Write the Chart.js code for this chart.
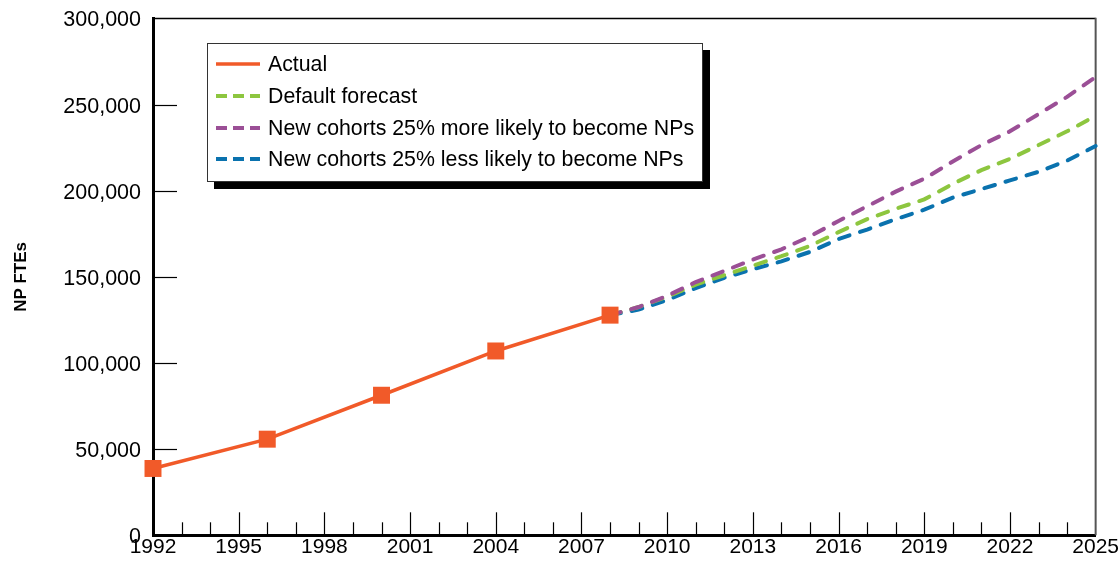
<!DOCTYPE html>
<html>
<head>
<meta charset="utf-8">
<script src="https://cdn.jsdelivr.net/npm/chart.js@4.4.1/dist/chart.umd.min.js"></script>
<style>
  html, body { margin: 0; padding: 0; background: #fff; }
  #wrap { position: relative; width: 1120px; height: 565px; }
  #legend {
    position: absolute; left: 207px; top: 43px; width: 496px; height: 139px;
    border: 1px solid #333; background: #fff; box-shadow: 7px 7px 0 #000;
    font-family: "Liberation Sans", Arial, sans-serif; font-size: 21.3px; color: #000;
    box-sizing: border-box;
  }
  .row { position: absolute; left: 7px; height: 24px; display: flex; align-items: center; white-space: nowrap; }
  .row svg { width: 46px; height: 10px; margin-right: 7px; }
</style>
</head>
<body>
<div id="wrap">
  <canvas id="c" width="1120" height="565"></canvas>
  <div id="legend"></div>
</div>
<script>
// ---- data ----
const actualYears  = [1992, 1996, 2000, 2004, 2008];
const actualValues = [38800, 55800, 81300, 107000, 127800];

const forecastYears = [2008, 2009, 2010, 2011, 2012, 2013, 2014, 2015, 2016,
                       2017, 2018, 2019, 2020, 2021, 2022, 2023, 2024, 2025];
const defaultForecast = [127800, 132500, 138500, 145500, 151000, 156500, 162000, 168000, 176000,
                         183500, 189500, 195000, 204000, 212000, 218500, 226500, 234500, 243500];
const moreLikely      = [127800, 132500, 139000, 147000, 153500, 160000, 166000, 173500, 182500,
                         191000, 199500, 207000, 217000, 226500, 234500, 244500, 254500, 266000];
const lessLikely      = [127800, 131000, 136500, 143500, 149500, 154500, 159000, 164500, 172000,
                         177500, 183500, 189000, 196000, 201000, 206000, 211000, 217500, 226000];

const seriesLabels = ["Actual", "Default forecast",
                      "New cohorts 25% more likely to become NPs",
                      "New cohorts 25% less likely to become NPs"];
const yAxisTitle = "NP FTEs";

// ---- styling ----
const C_ACTUAL = "#F15A29", C_DEFAULT = "#8DC63F", C_MORE = "#9B4F96", C_LESS = "#0A72AE";
const FONT = "'Liberation Sans', Arial, sans-serif";

const pts = (xs, ys) => xs.map((x, i) => ({ x: x, y: ys[i] }));

const frameTicks = {
  id: "frameTicks",
  beforeDatasetsDraw(chart) {
    const { ctx, chartArea: a, scales } = chart;
    const xs = scales.x, ys = scales.y;
    ctx.save();
    ctx.strokeStyle = "#000";
    ctx.lineWidth = 1.2;
    for (let yr = xs.min + 1; yr < xs.max; yr++) {
      const px = Math.round(xs.getPixelForValue(yr)) + 0.5;
      const len = ((yr - xs.min) % 3 === 0) ? 23 : 13;
      ctx.beginPath(); ctx.moveTo(px, a.bottom); ctx.lineTo(px, a.bottom - len); ctx.stroke();
    }
    for (let v = 50000; v < ys.max; v += 50000) {
      const py = Math.round(ys.getPixelForValue(v)) + 0.5;
      ctx.beginPath(); ctx.moveTo(a.left, py); ctx.lineTo(a.left + 24, py); ctx.stroke();
    }
    ctx.lineWidth = 1.5;
    ctx.beginPath(); ctx.moveTo(a.left, a.top); ctx.lineTo(a.right, a.top); ctx.stroke();
    ctx.strokeStyle = "#555"; ctx.lineWidth = 2;
    ctx.beginPath(); ctx.moveTo(a.right, a.top - 0.75); ctx.lineTo(a.right, a.bottom); ctx.stroke();
    ctx.restore();
  }
};

const dashed = (label, color, ys) => ({
  label: label, data: pts(forecastYears, ys), borderColor: color, backgroundColor: color,
  borderWidth: 4, borderDash: [11, 11], borderCapStyle: "round", pointRadius: 0,
  tension: 0, fill: false, clip: false
});

new Chart(document.getElementById("c"), {
  type: "line",
  data: {
    datasets: [
      { label: seriesLabels[0], data: pts(actualYears, actualValues), borderColor: C_ACTUAL,
        backgroundColor: C_ACTUAL, borderWidth: 3.5, pointStyle: "rect", pointRadius: 12,
        pointBorderWidth: 0, pointBackgroundColor: C_ACTUAL, tension: 0, fill: false, clip: false },
      dashed(seriesLabels[2], C_MORE, moreLikely),
      dashed(seriesLabels[1], C_DEFAULT, defaultForecast),
      dashed(seriesLabels[3], C_LESS, lessLikely)
    ]
  },
  options: {
    responsive: false, animation: false, events: [],
    layout: { padding: { left: 0, right: 23, top: 18.5, bottom: 0 } },
    plugins: { legend: { display: false }, tooltip: { enabled: false } },
    scales: {
      x: {
        type: "linear", min: 1992, max: 2025,
        grid: { display: false, drawTicks: false },
        border: { display: true, color: "#000", width: 3 },
        ticks: { stepSize: 3, padding: 1, color: "#000",
                 font: { family: FONT, size: 21, lineHeight: 1 },
                 callback: v => String(v) },
        afterFit: s => { s.height = 29.7; }
      },
      y: {
        min: 0, max: 300000,
        grid: { display: false, drawTicks: false },
        border: { display: true, color: "#000", width: 3 },
        ticks: { stepSize: 50000, padding: 12, labelOffset: 2, color: "#000",
                 font: { family: FONT, size: 21.5, lineHeight: 0.4 },
                 callback: v => v.toLocaleString("en-US") },
        title: { display: true, text: yAxisTitle, color: "#000",
                 font: { family: FONT, size: 17, weight: "bold" },
                 padding: { top: 11, bottom: 0 } },
        afterFit: s => { s.width = 153; }
      }
    }
  },
  plugins: [frameTicks]
});

// ---- HTML legend ----
const legendItems = [
  { label: seriesLabels[0], color: C_ACTUAL, dash: null },
  { label: seriesLabels[1], color: C_DEFAULT, dash: "11 6" },
  { label: seriesLabels[2], color: C_MORE, dash: "11 6" },
  { label: seriesLabels[3], color: C_LESS, dash: "11 6" }
];
const lg = document.getElementById("legend");
const rowTops = [8, 40, 72, 103];
legendItems.forEach((it, i) => {
  const row = document.createElement("div");
  row.className = "row";
  row.style.top = rowTops[i] + "px";
  const dashAttr = it.dash ? ` stroke-dasharray="${it.dash}"` : "";
  row.innerHTML = `<svg viewBox="0 0 46 10"><line x1="1" y1="5" x2="45" y2="5" stroke="${it.color}" stroke-width="${it.dash ? 4 : 3.5}"${dashAttr}/></svg><span></span>`;
  row.querySelector("span").textContent = it.label;
  lg.appendChild(row);
});
</script>
</body>
</html>
